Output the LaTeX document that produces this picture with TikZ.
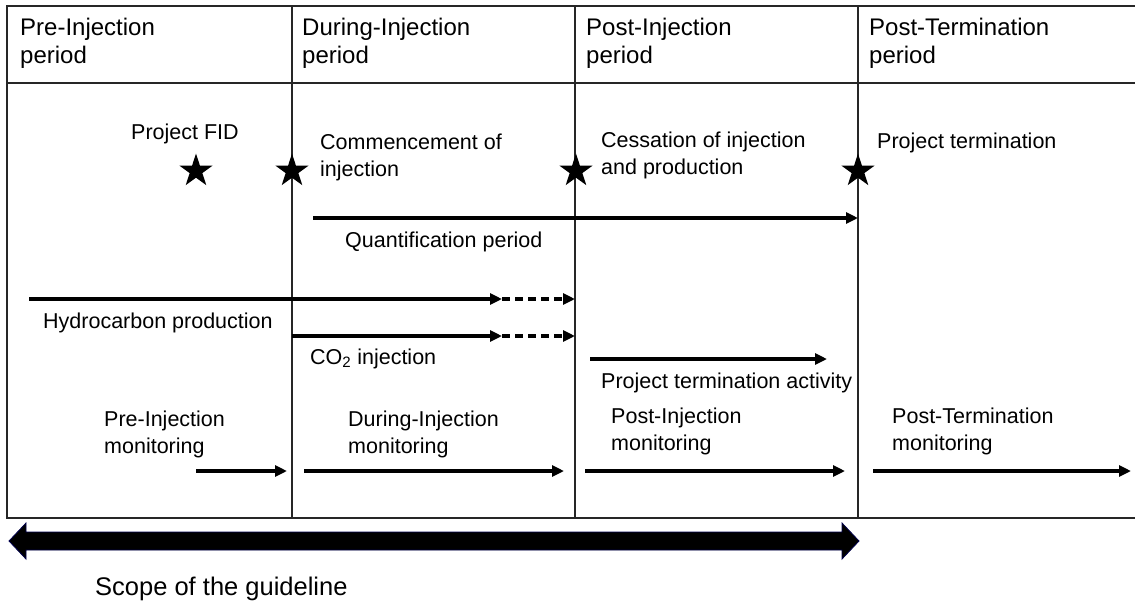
\documentclass[tikz,border=0pt]{standalone}
\usepackage{fontspec}
\setmainfont{Liberation Sans}
\usetikzlibrary{arrows.meta,shapes.geometric}
\begin{document}
\begin{tikzpicture}[x=1pt,y=-1pt,
  grid/.style={line width=1.2pt, draw=black!85},
  hdr/.style={anchor=base west, inner sep=0, font=\fontsize{24}{28}\selectfont, align=left},
  lbl/.style={anchor=base west, inner sep=0, font=\fontsize{21.5}{27}\selectfont, align=left},
  scopelbl/.style={anchor=base west, inner sep=0, font=\fontsize{25.5}{30}\selectfont},
  starmark/.style={star, star points=5, star point ratio=2.618, fill=black, minimum size=35pt, inner sep=0},
  arr/.style={line width=3.6pt, -{Triangle[length=12pt,width=11pt]}},
  darr/.style={arr, dash pattern=on 8pt off 5pt},
]
\useasboundingbox (0,0) rectangle (1135,603);

% table grid
\coordinate (tl) at (7,6);
\coordinate (tr) at (1135,6);
\coordinate (hl) at (7,83);
\coordinate (hr) at (1135,83);
\coordinate (bl) at (7,518);
\coordinate (br) at (1135,518);
\coordinate (v1t) at (292,6);  \coordinate (v1b) at (292,518);
\coordinate (v2t) at (575,6);  \coordinate (v2b) at (575,518);
\coordinate (v3t) at (858,6);  \coordinate (v3b) at (858,518);
\draw[grid] (tr) -- (tl) -- (bl) -- (br);
\draw[grid] (hl) -- (hr);
\draw[grid] (v1t) -- (v1b);
\draw[grid] (v2t) -- (v2b);
\draw[grid] (v3t) -- (v3b);

% headers (anchor = baseline of the last line)
\node[hdr] (h1) at (20,63) {Pre-Injection\\period};
\node[hdr] (h2) at (302,63) {During-Injection\\period};
\node[hdr] (h3) at (586,63) {Post-Injection\\period};
\node[hdr] (h4) at (869,63) {Post-Termination\\period};

% milestones
\node[starmark] (s1) at (196,171) {};
\node[starmark] (s2) at (292,171) {};
\node[starmark] (s3) at (576,171) {};
\node[starmark] (s4) at (858,171) {};
\node[lbl] (m1) at (131,139) {Project FID};
\node[lbl] (m2) at (320,176) {Commencement of\\injection};
\node[lbl] (m3) at (601,174) {Cessation of injection\\and production};
\node[lbl] (m4) at (877,148) {Project termination};

% quantification period
\coordinate (q1) at (313,218);
\coordinate (q2) at (858,218);
\draw[arr] (q1) -- (q2);
\node[lbl] (ql) at (345,247) {Quantification period};

% hydrocarbon production
\coordinate (hc1) at (29,299);
\coordinate (hc2) at (502,299);
\coordinate (hc3) at (575,299);
\draw[arr] (hc1) -- (hc2);
\draw[darr] (hc2) -- (hc3);
\node[lbl] (hcl) at (43,328) {Hydrocarbon production};

% CO2 injection
\coordinate (co1) at (292,336);
\coordinate (co2) at (502,336);
\coordinate (co3) at (575,336);
\draw[arr] (co1) -- (co2);
\draw[darr] (co2) -- (co3);
\node[lbl] (col) at (310,364) {CO\textsubscript{2} injection};

% project termination activity
\coordinate (pt1) at (590,359);
\coordinate (pt2) at (827,359);
\draw[arr] (pt1) -- (pt2);
\node[lbl] (ptl) at (601,388) {Project termination activity};

% monitoring
\node[lbl] (mo1) at (104,453) {Pre-Injection\\monitoring};
\node[lbl] (mo2) at (348,453) {During-Injection\\monitoring};
\node[lbl] (mo3) at (611,450) {Post-Injection\\monitoring};
\node[lbl] (mo4) at (892,450) {Post-Termination\\monitoring};
\coordinate (a1s) at (196,471); \coordinate (a1e) at (287,471);
\coordinate (a2s) at (304,471); \coordinate (a2e) at (564,471);
\coordinate (a3s) at (585,471); \coordinate (a3e) at (845,471);
\coordinate (a4s) at (873,471); \coordinate (a4e) at (1131,471);
\draw[arr] (a1s) -- (a1e);
\draw[arr] (a2s) -- (a2e);
\draw[arr] (a3s) -- (a3e);
\draw[arr] (a4s) -- (a4e);

% scope of the guideline
\fill[black, draw=black!70!blue, line width=0.8pt]
  (9,541) -- (26,523) -- (26,532) -- (842,532) -- (842,523) -- (859,541)
  -- (842,559) -- (842,550) -- (26,550) -- (26,559) -- cycle;
\node[scopelbl] (sc) at (95,595) {Scope of the guideline};
\end{tikzpicture}
\end{document}
